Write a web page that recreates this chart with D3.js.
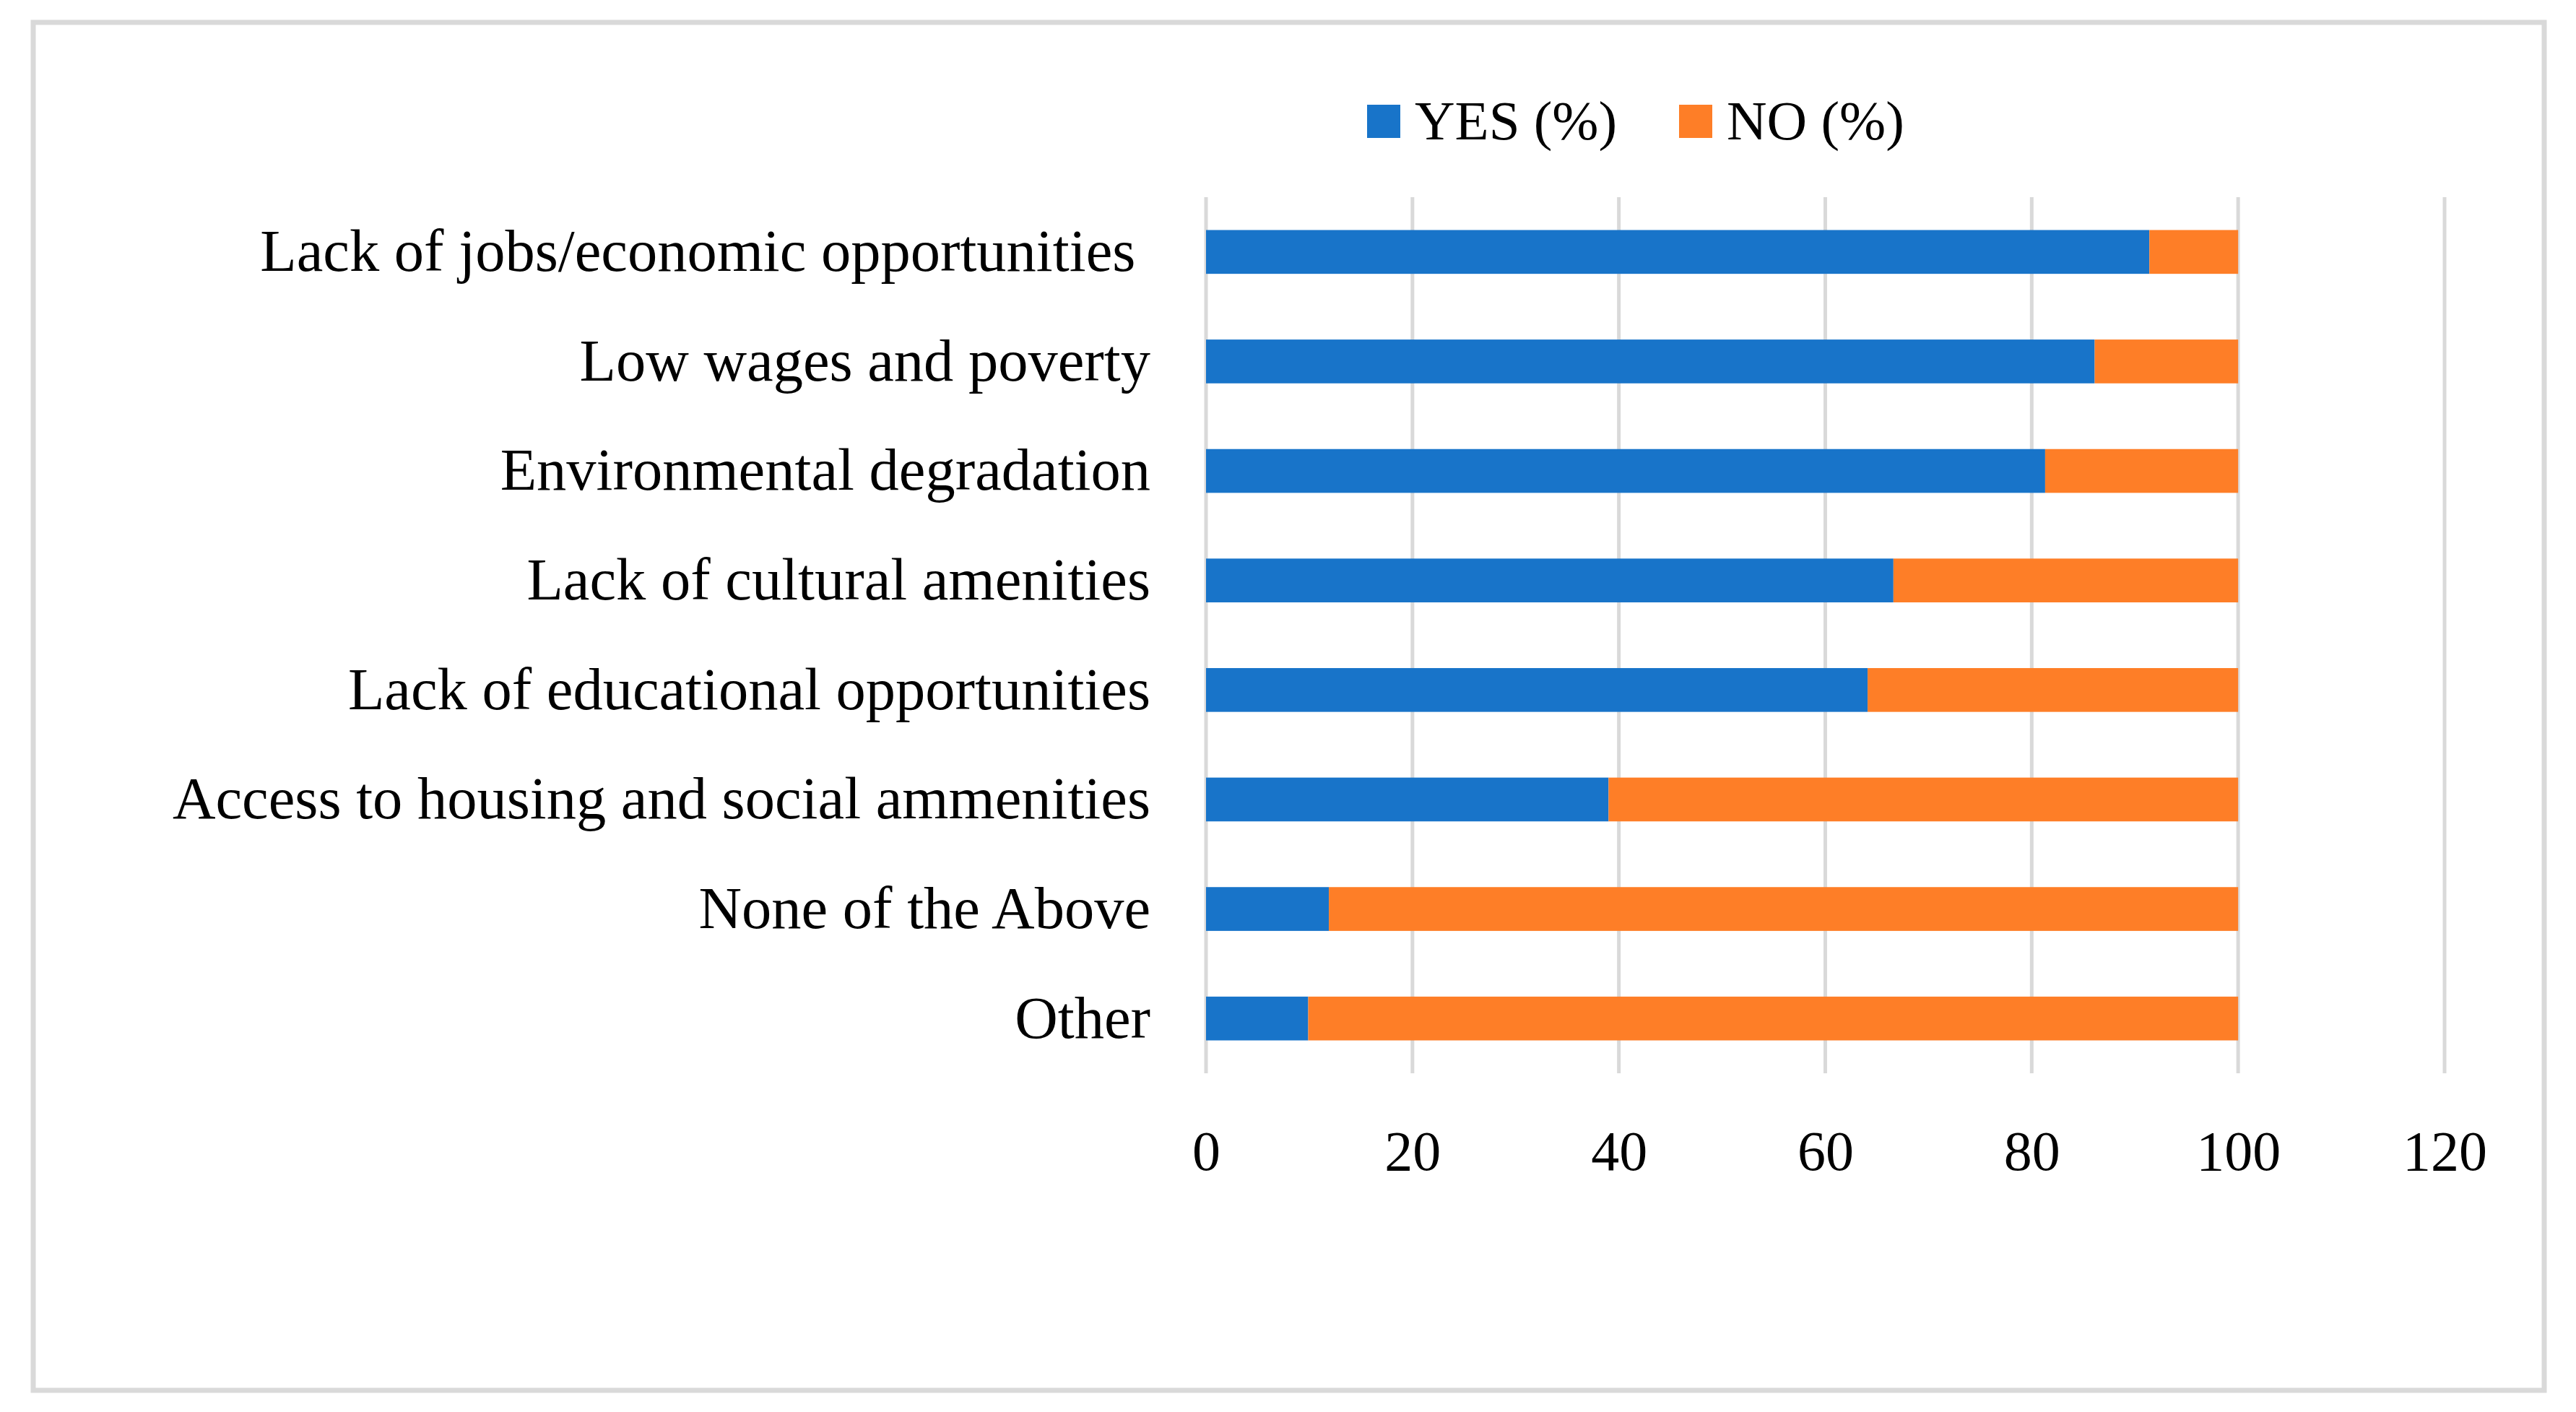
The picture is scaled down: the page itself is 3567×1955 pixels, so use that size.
<!DOCTYPE html>
<html>
<head>
<meta charset="utf-8">
<script src="https://cdn.jsdelivr.net/npm/d3@7"></script>
<style>
  body { margin: 0; background: #fff; }
  svg text { font-family: "Liberation Serif", "DejaVu Serif", serif; fill: #000; }
</style>
</head>
<body>
<svg id="chart"></svg>
<script>
// data
const categories = [
  "Lack of jobs/economic opportunities ",
  "Low wages and poverty",
  "Environmental degradation",
  "Lack of cultural amenities",
  "Lack of educational opportunities",
  "Access to housing and social ammenities",
  "None of the Above",
  "Other"
];
const yesValues = [91.4, 86.1, 81.3, 66.6, 64.1, 39.0, 11.9, 9.9];
const noValues = yesValues.map(v => 100 - v); // each row adds up to 100
const seriesNames = ["YES (%)", "NO (%)"];
const seriesColors = ["#1874C9", "#FE7E27"];
const xTicks = [0, 20, 40, 60, 80, 100, 120];

const width = 3567, height = 1955;
const svg = d3.select("#chart")
  .attr("width", width)
  .attr("height", height);

// outer frame
svg.append("rect")
  .attr("x", 46).attr("y", 31)
  .attr("width", 3477).attr("height", 1894)
  .attr("fill", "#fff")
  .attr("stroke", "#d9d9d9")
  .attr("stroke-width", 7);

const plot = { left: 1670, right: 3385, top: 273, bottom: 1486 };

const x = d3.scaleLinear()
  .domain([0, 120])
  .range([plot.left, plot.right]);

const y = d3.scaleBand()
  .domain(categories)
  .range([plot.top, plot.bottom])
  .paddingInner(0.6)
  .paddingOuter(0.3);

// gridlines
svg.append("g")
  .selectAll("line")
  .data(xTicks)
  .enter()
  .append("line")
  .attr("x1", d => x(d))
  .attr("x2", d => x(d))
  .attr("y1", plot.top)
  .attr("y2", plot.bottom)
  .attr("stroke", "#d9d9d9")
  .attr("stroke-width", 5);

// stacked bars
const rows = categories.map((c, i) => ({ category: c, yes: yesValues[i], no: noValues[i] }));
const stacked = d3.stack().keys(["yes", "no"])(rows);

svg.append("g")
  .selectAll("g")
  .data(stacked)
  .enter()
  .append("g")
  .attr("fill", (d, i) => seriesColors[i])
  .selectAll("rect")
  .data(d => d)
  .enter()
  .append("rect")
  .attr("x", d => x(d[0]))
  .attr("width", d => x(d[1]) - x(d[0]))
  .attr("y", d => y(d.data.category))
  .attr("height", y.bandwidth());

// x axis labels
const xAxis = d3.axisBottom(x).tickValues(xTicks).tickSize(0).tickPadding(0);
const xg = svg.append("g")
  .attr("transform", `translate(0, ${plot.bottom})`)
  .call(xAxis);
xg.select(".domain").remove();
xg.selectAll("text")
  .attr("dy", null)
  .attr("y", 134)
  .style("font-size", "78px")
  .style("font-family", '"Liberation Serif", serif')
  .attr("fill", "#000");

// category labels
const yAxis = d3.axisLeft(y).tickSize(0).tickPadding(77);
const yg = svg.append("g")
  .attr("transform", `translate(${plot.left}, 0)`)
  .call(yAxis);
yg.select(".domain").remove();
yg.selectAll("text")
  .attr("dy", "0.32em")
  .style("white-space", "pre")
  .style("font-size", "82.5px")
  .style("font-family", '"Liberation Serif", serif')
  .attr("fill", "#000");

// legend
const legendX = [1893, 2325];
const legend = svg.append("g")
  .selectAll("g")
  .data(seriesNames)
  .enter()
  .append("g")
  .attr("transform", (d, i) => `translate(${legendX[i]}, 145)`);

legend.append("rect")
  .attr("width", 46)
  .attr("height", 46)
  .attr("fill", (d, i) => seriesColors[i]);

legend.append("text")
  .attr("x", 66)
  .attr("y", 48)
  .style("font-size", "77px")
  .text(d => d);
</script>
</body>
</html>
